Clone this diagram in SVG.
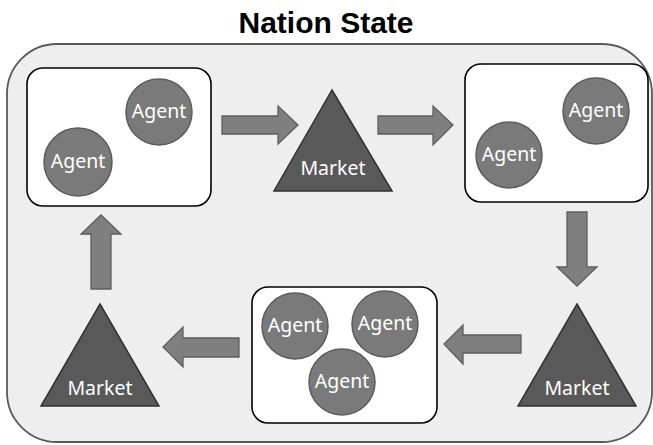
<svg xmlns="http://www.w3.org/2000/svg" width="653" height="445" viewBox="0 0 653 445">
  <style>
    .title { font-family: "Liberation Sans", Arial, sans-serif; font-weight: bold; font-size: 30px; fill: #000; }
    .frame { fill: #eeeeee; stroke: #5a5a5a; stroke-width: 1.8; }
    .group { fill: #ffffff; stroke: #000000; stroke-width: 1.6; }
    .agent { fill: #7a7a7a; stroke: #5c5c5c; stroke-width: 1.5; }
    .market { fill: #595959; stroke: #333333; stroke-width: 1.5; }
    .arrow { fill: #7f7f7f; stroke: #5e5e5e; stroke-width: 1.3; }
    .lbl { font-family: "Noto Sans", "Open Sans", sans-serif; font-size: 19.5px; fill: #ffffff; text-anchor: middle; }
  </style>

  <!-- outer frame -->
  <rect class="frame" x="7" y="44" width="645" height="398" rx="50" ry="50"/>
  <text class="title" x="326" y="33" text-anchor="middle">Nation State</text>

  <!-- connectors -->
  <g id="connectors">
    <polygon class="arrow" points="222,116 278,116 278,106 298,125 278,144 278,134 222,134"/>
    <polygon class="arrow" points="378,116 433,116 433,106 453,125 433,145 433,134 378,134"/>
    <polygon class="arrow" points="567,212 587,212 587,267 597,267 577,286 557,267 567,267"/>
    <polygon class="arrow" points="521,335 463,335 463,325 444,344 463,364 463,353 521,353"/>
    <polygon class="arrow" points="239,338 183,338 183,327 163,347 183,367 183,357 239,357"/>
    <polygon class="arrow" points="91,289 91,234 81,234 101,215 121,234 111,234 111,289"/>
  </g>

  <!-- agent group, top left -->
  <g id="agents-1">
    <rect class="group" x="27" y="68" width="184" height="138" rx="16" ry="16"/>
    <circle class="agent" cx="159" cy="112" r="33"/>
    <text class="lbl" x="159" y="118">Agent</text>
    <circle class="agent" cx="78" cy="162" r="34"/>
    <text class="lbl" x="78" y="168">Agent</text>
  </g>

  <!-- market, top middle -->
  <g id="market-1">
    <polygon class="market" points="332,90 392,191 274,191"/>
    <text class="lbl" x="333" y="175">Market</text>
  </g>

  <!-- agent group, top right -->
  <g id="agents-2">
    <rect class="group" x="465" y="64" width="183" height="138" rx="16" ry="16"/>
    <circle class="agent" cx="596" cy="111" r="33"/>
    <text class="lbl" x="596" y="117">Agent</text>
    <circle class="agent" cx="509" cy="155" r="33"/>
    <text class="lbl" x="509" y="161">Agent</text>
  </g>

  <!-- market, bottom right -->
  <g id="market-2">
    <polygon class="market" points="577,304 636,406 518,406"/>
    <text class="lbl" x="577" y="395">Market</text>
  </g>

  <!-- agent group, bottom middle -->
  <g id="agents-3">
    <rect class="group" x="252" y="287" width="185" height="136" rx="16" ry="16"/>
    <circle class="agent" cx="295" cy="326" r="33"/>
    <text class="lbl" x="295" y="332">Agent</text>
    <circle class="agent" cx="385" cy="324" r="33"/>
    <text class="lbl" x="385" y="330">Agent</text>
    <circle class="agent" cx="342" cy="382" r="33"/>
    <text class="lbl" x="342" y="388">Agent</text>
  </g>

  <!-- market, bottom left -->
  <g id="market-3">
    <polygon class="market" points="100,304 159,406 41,406"/>
    <text class="lbl" x="100" y="395">Market</text>
  </g>
</svg>
